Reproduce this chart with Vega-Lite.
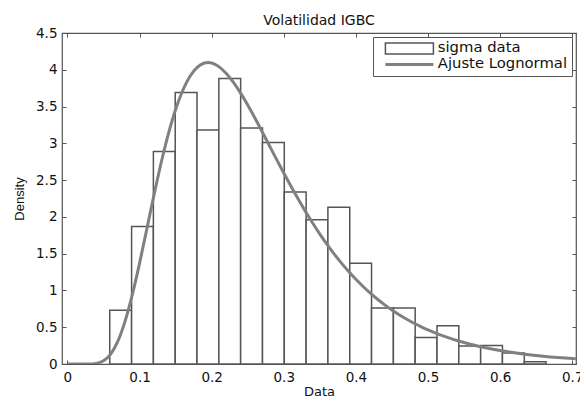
{
  "$schema": "https://vega.github.io/schema/vega-lite/v6.json",
  "width": 514,
  "height": 331,
  "autosize": {"type": "none"},
  "padding": {"left": 62, "top": 33, "right": 4, "bottom": 37},
  "background": "white",
  "title": {"text": "Volatilidad IGBC", "font": "DejaVu Sans", "fontSize": 14, "fontWeight": "normal", "color": "#111", "anchor": "middle", "baseline": "alphabetic", "offset": -13},
  "config": {
    "font": "DejaVu Sans",
    "view": {"stroke": "#555", "strokeWidth": 1.2},
    "axis": {"grid": false, "domain": false, "tickColor": "#555", "tickSize": -4, "tickWidth": 1, "labelFont": "DejaVu Sans", "labelFontSize": 13.5, "labelColor": "#111", "titleFont": "DejaVu Sans", "titleFontWeight": "normal", "titleColor": "#111"}
  },
  "datasets": {
    "bins": [
      {"x0": 0.0587, "x1": 0.0890, "d": 0.73, "series": "sigma data"},
      {"x0": 0.0890, "x1": 0.1192, "d": 1.87, "series": "sigma data"},
      {"x0": 0.1192, "x1": 0.1495, "d": 2.89, "series": "sigma data"},
      {"x0": 0.1495, "x1": 0.1797, "d": 3.69, "series": "sigma data"},
      {"x0": 0.1797, "x1": 0.2100, "d": 3.18, "series": "sigma data"},
      {"x0": 0.2100, "x1": 0.2402, "d": 3.88, "series": "sigma data"},
      {"x0": 0.2402, "x1": 0.2705, "d": 3.21, "series": "sigma data"},
      {"x0": 0.2705, "x1": 0.3007, "d": 3.01, "series": "sigma data"},
      {"x0": 0.3007, "x1": 0.3310, "d": 2.34, "series": "sigma data"},
      {"x0": 0.3310, "x1": 0.3612, "d": 1.96, "series": "sigma data"},
      {"x0": 0.3612, "x1": 0.3915, "d": 2.13, "series": "sigma data"},
      {"x0": 0.3915, "x1": 0.4217, "d": 1.37, "series": "sigma data"},
      {"x0": 0.4217, "x1": 0.4520, "d": 0.76, "series": "sigma data"},
      {"x0": 0.4520, "x1": 0.4822, "d": 0.76, "series": "sigma data"},
      {"x0": 0.4822, "x1": 0.5125, "d": 0.36, "series": "sigma data"},
      {"x0": 0.5125, "x1": 0.5427, "d": 0.52, "series": "sigma data"},
      {"x0": 0.5427, "x1": 0.5730, "d": 0.245, "series": "sigma data"},
      {"x0": 0.5730, "x1": 0.6032, "d": 0.25, "series": "sigma data"},
      {"x0": 0.6032, "x1": 0.6335, "d": 0.15, "series": "sigma data"},
      {"x0": 0.6335, "x1": 0.6637, "d": 0.03, "series": "sigma data"}
    ],
    "curve": [
      {"x": 0.0, "d": 0, "series": "Ajuste Lognormal"},
      {"x": 0.01, "d": 0, "series": "Ajuste Lognormal"},
      {"x": 0.02, "d": 0.0000, "series": "Ajuste Lognormal"},
      {"x": 0.03, "d": 0.0008, "series": "Ajuste Lognormal"},
      {"x": 0.04, "d": 0.0086, "series": "Ajuste Lognormal"},
      {"x": 0.05, "d": 0.0432, "series": "Ajuste Lognormal"},
      {"x": 0.06, "d": 0.1347, "series": "Ajuste Lognormal"},
      {"x": 0.07, "d": 0.3104, "series": "Ajuste Lognormal"},
      {"x": 0.08, "d": 0.5824, "series": "Ajuste Lognormal"},
      {"x": 0.09, "d": 0.9429, "series": "Ajuste Lognormal"},
      {"x": 0.10, "d": 1.369, "series": "Ajuste Lognormal"},
      {"x": 0.11, "d": 1.8306, "series": "Ajuste Lognormal"},
      {"x": 0.12, "d": 2.2955, "series": "Ajuste Lognormal"},
      {"x": 0.13, "d": 2.736, "series": "Ajuste Lognormal"},
      {"x": 0.14, "d": 3.1288, "series": "Ajuste Lognormal"},
      {"x": 0.15, "d": 3.4603, "series": "Ajuste Lognormal"},
      {"x": 0.16, "d": 3.7218, "series": "Ajuste Lognormal"},
      {"x": 0.17, "d": 3.9124, "series": "Ajuste Lognormal"},
      {"x": 0.18, "d": 4.0338, "series": "Ajuste Lognormal"},
      {"x": 0.19, "d": 4.0912, "series": "Ajuste Lognormal"},
      {"x": 0.195, "d": 4.0976, "series": "Ajuste Lognormal"},
      {"x": 0.20, "d": 4.0914, "series": "Ajuste Lognormal"},
      {"x": 0.21, "d": 4.0429, "series": "Ajuste Lognormal"},
      {"x": 0.22, "d": 3.9537, "series": "Ajuste Lognormal"},
      {"x": 0.23, "d": 3.8321, "series": "Ajuste Lognormal"},
      {"x": 0.24, "d": 3.6855, "series": "Ajuste Lognormal"},
      {"x": 0.25, "d": 3.5206, "series": "Ajuste Lognormal"},
      {"x": 0.26, "d": 3.3432, "series": "Ajuste Lognormal"},
      {"x": 0.27, "d": 3.1583, "series": "Ajuste Lognormal"},
      {"x": 0.28, "d": 2.9702, "series": "Ajuste Lognormal"},
      {"x": 0.29, "d": 2.7820, "series": "Ajuste Lognormal"},
      {"x": 0.30, "d": 2.5966, "series": "Ajuste Lognormal"},
      {"x": 0.31, "d": 2.4159, "series": "Ajuste Lognormal"},
      {"x": 0.32, "d": 2.2416, "series": "Ajuste Lognormal"},
      {"x": 0.33, "d": 2.0751, "series": "Ajuste Lognormal"},
      {"x": 0.34, "d": 1.9165, "series": "Ajuste Lognormal"},
      {"x": 0.35, "d": 1.7668, "series": "Ajuste Lognormal"},
      {"x": 0.36, "d": 1.6264, "series": "Ajuste Lognormal"},
      {"x": 0.37, "d": 1.4946, "series": "Ajuste Lognormal"},
      {"x": 0.38, "d": 1.3718, "series": "Ajuste Lognormal"},
      {"x": 0.39, "d": 1.2576, "series": "Ajuste Lognormal"},
      {"x": 0.40, "d": 1.1519, "series": "Ajuste Lognormal"},
      {"x": 0.41, "d": 1.0541, "series": "Ajuste Lognormal"},
      {"x": 0.42, "d": 0.9638, "series": "Ajuste Lognormal"},
      {"x": 0.43, "d": 0.8808, "series": "Ajuste Lognormal"},
      {"x": 0.44, "d": 0.8044, "series": "Ajuste Lognormal"},
      {"x": 0.45, "d": 0.7343, "series": "Ajuste Lognormal"},
      {"x": 0.46, "d": 0.6700, "series": "Ajuste Lognormal"},
      {"x": 0.47, "d": 0.6112, "series": "Ajuste Lognormal"},
      {"x": 0.48, "d": 0.5575, "series": "Ajuste Lognormal"},
      {"x": 0.49, "d": 0.5082, "series": "Ajuste Lognormal"},
      {"x": 0.50, "d": 0.4633, "series": "Ajuste Lognormal"},
      {"x": 0.51, "d": 0.4223, "series": "Ajuste Lognormal"},
      {"x": 0.52, "d": 0.3849, "series": "Ajuste Lognormal"},
      {"x": 0.53, "d": 0.3509, "series": "Ajuste Lognormal"},
      {"x": 0.54, "d": 0.3198, "series": "Ajuste Lognormal"},
      {"x": 0.55, "d": 0.2914, "series": "Ajuste Lognormal"},
      {"x": 0.56, "d": 0.2657, "series": "Ajuste Lognormal"},
      {"x": 0.57, "d": 0.2422, "series": "Ajuste Lognormal"},
      {"x": 0.58, "d": 0.2208, "series": "Ajuste Lognormal"},
      {"x": 0.59, "d": 0.2013, "series": "Ajuste Lognormal"},
      {"x": 0.60, "d": 0.1836, "series": "Ajuste Lognormal"},
      {"x": 0.62, "d": 0.1527, "series": "Ajuste Lognormal"},
      {"x": 0.64, "d": 0.1272, "series": "Ajuste Lognormal"},
      {"x": 0.66, "d": 0.1060, "series": "Ajuste Lognormal"},
      {"x": 0.68, "d": 0.0885, "series": "Ajuste Lognormal"},
      {"x": 0.70, "d": 0.0740, "series": "Ajuste Lognormal"},
      {"x": 0.705, "d": 0.0705, "series": "Ajuste Lognormal"}
    ]
  },
  "resolve": {"axis": {"x": "independent", "y": "independent"}},
  "layer": [
    {
      "data": {"name": "bins"},
      "mark": {"type": "bar", "fill": "white", "strokeWidth": 1.5, "orient": "vertical"},
      "encoding": {
        "x": {"field": "x0", "type": "quantitative", "scale": {"domain": [-0.0075, 0.7052], "nice": false, "zero": false, "padding": 0},
              "axis": {"orient": "bottom", "values": [0, 0.1, 0.2, 0.3, 0.4, 0.5, 0.6, 0.7], "format": ".1~f", "labelPadding": 10, "title": "Data", "titleFontSize": 13, "titlePadding": 2}},
        "x2": {"field": "x1"},
        "y": {"field": "d", "type": "quantitative", "scale": {"domain": [0, 4.5], "nice": false, "padding": 0},
              "axis": {"orient": "left", "values": [0, 0.5, 1, 1.5, 2, 2.5, 3, 3.5, 4, 4.5], "format": ".1~f", "labelPadding": 9, "title": "Density", "titleFont": "Liberation Sans", "titleFontSize": 13, "titlePadding": 9}},
        "y2": {"datum": 0},
        "stroke": {"field": "series", "type": "nominal",
                   "scale": {"domain": ["sigma data", "Ajuste Lognormal"], "range": ["#555555", "#808080"]},
                   "legend": {"title": null, "orient": "top-right", "offset": 4, "padding": 4, "fillColor": "white", "strokeColor": "#555", "cornerRadius": 0,
                              "labelFont": "DejaVu Sans", "labelFontSize": 14.8, "labelColor": "#111", "labelOffset": 40, "symbolSize": 100, "symbolOffset": 6, "rowPadding": -4,
                              "encode": {"symbols": {"update": {
                                "shape": {"signal": "datum.value === 'sigma data' ? 'M-1,-1.1H8.6V1.1H-1Z' : 'M-1,0H8.6'"},
                                "fill": {"signal": "datum.value === 'sigma data' ? 'white' : 'transparent'"},
                                "stroke": {"signal": "datum.value === 'sigma data' ? '#555555' : '#808080'"},
                                "strokeWidth": {"signal": "datum.value === 'sigma data' ? 1.5 : 3"},
                                "opacity": {"value": 1}
                              }}}}}
      }
    },
    {
      "data": {"name": "curve"},
      "mark": {"type": "line", "strokeWidth": 3, "interpolate": "monotone", "clip": true},
      "encoding": {
        "x": {"field": "x", "type": "quantitative", "scale": {"domain": [-0.0075, 0.7052], "nice": false, "zero": false, "padding": 0}, "axis": null},
        "y": {"field": "d", "type": "quantitative", "scale": {"domain": [0, 4.5], "nice": false, "padding": 0}, "axis": null},
        "stroke": {"field": "series", "type": "nominal",
                   "scale": {"domain": ["sigma data", "Ajuste Lognormal"], "range": ["#555555", "#808080"]},
                   "legend": {"title": null, "orient": "top-right", "offset": 4, "padding": 4, "fillColor": "white", "strokeColor": "#555", "cornerRadius": 0,
                              "labelFont": "DejaVu Sans", "labelFontSize": 14.8, "labelColor": "#111", "labelOffset": 40, "symbolSize": 100, "symbolOffset": 6, "rowPadding": -4,
                              "encode": {"symbols": {"update": {
                                "shape": {"signal": "datum.value === 'sigma data' ? 'M-1,-1.1H8.6V1.1H-1Z' : 'M-1,0H8.6'"},
                                "fill": {"signal": "datum.value === 'sigma data' ? 'white' : 'transparent'"},
                                "stroke": {"signal": "datum.value === 'sigma data' ? '#555555' : '#808080'"},
                                "strokeWidth": {"signal": "datum.value === 'sigma data' ? 1.5 : 3"},
                                "opacity": {"value": 1}
                              }}}}}
      }
    },
    {
      "data": {"name": "bins"},
      "mark": {"type": "point", "opacity": 0},
      "encoding": {
        "x": {"field": "x0", "type": "quantitative", "scale": {"domain": [-0.0075, 0.7052], "nice": false, "zero": false, "padding": 0},
              "axis": {"orient": "top", "values": [0, 0.1, 0.2, 0.3, 0.4, 0.5, 0.6, 0.7], "labels": false, "title": null, "minExtent": 0, "maxExtent": 0}},
        "y": {"field": "d", "type": "quantitative", "scale": {"domain": [0, 4.5], "nice": false, "padding": 0},
              "axis": {"orient": "right", "values": [0, 0.5, 1, 1.5, 2, 2.5, 3, 3.5, 4, 4.5], "labels": false, "title": null, "minExtent": 0, "maxExtent": 0}}
      }
    }
  ]
}
